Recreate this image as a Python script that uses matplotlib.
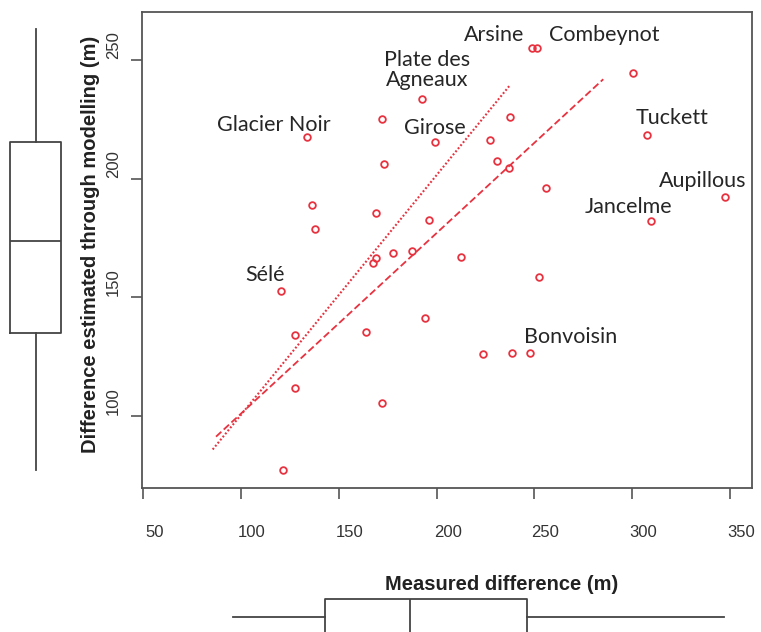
import matplotlib
matplotlib.use("Agg")
import matplotlib.pyplot as plt
from matplotlib.transforms import ScaledTranslation

# ---------------- data ----------------
measured = [249.0, 251.4, 300.6, 192.3, 172.0, 237.6, 133.8, 199.4, 227.3, 307.7,
            172.9, 230.7, 237.0, 255.8, 347.3, 309.7, 136.4, 138.0, 169.2, 195.9,
            169.2, 167.4, 177.7, 187.4, 212.7, 252.4, 120.4, 194.3, 164.0, 127.5,
            223.9, 238.3, 247.5, 127.5, 172.0, 121.2]
modelled = [255.2, 255.2, 244.4, 233.4, 225.0, 226.0, 217.4, 215.4, 216.2, 218.4,
            206.3, 207.4, 204.6, 195.9, 192.4, 182.2, 189.0, 178.7, 185.7, 182.7,
            166.7, 164.3, 168.8, 169.4, 167.1, 158.4, 152.7, 141.1, 135.4, 134.2,
            126.1, 126.7, 126.7, 111.8, 105.5, 77.2]

# fitted lines (end points)
dotted_x = [85.5, 237.1]
dotted_y = [85.9, 239.0]
dashed_x = [87.2, 285.2]
dashed_y = [91.3, 241.9]

# site labels
site_names = ["Arsine", "Combeynot", "Plate des\nAgneaux", "Glacier Noir", "Girose",
              "Tuckett", "Aupillous", "Jancelme", "Sélé", "Bonvoisin"]

# marginal box plot summaries (whisker low, Q1, median, Q3, whisker high)
y_box = [77.3, 135.0, 173.6, 215.6, 262.9]
x_box = [95.7, 142.7, 186.4, 246.3, 347.1]

x_ticks = [50, 100, 150, 200, 250, 300, 350]
y_ticks = [100, 150, 200, 250]

# ---------------- layout ----------------
W, H = 761, 632
fig = plt.figure(figsize=(W / 100, H / 100), dpi=100)

def fx(px):
    return px / W

def fy(py):
    return 1 - py / H

L, R, T, B = 141.7, 752.3, 12.3, 487.7
ax = fig.add_axes([fx(L), fy(B), fx(R - L), (B - T) / H])
ax.set_xlim(49.2, 361.4)
ax.set_ylim(69.8, 270.1)

red = "#e8323f"
ax.plot(measured, modelled, linestyle="none", marker="o", markersize=4.8,
        markerfacecolor="none", markeredgecolor=red, markeredgewidth=1.3)
ax.plot(dotted_x, dotted_y, color=red, lw=1.5, linestyle=(0, (0.9, 1.0)))
ax.plot(dashed_x, dashed_y, color=red, lw=1.3, linestyle=(0, (4.0, 1.8)))

# label positions (layout)
label_pos = [(229.6, 260.5), (285.9, 260.5), (195.0, 245.9), (116.6, 222.6),
             (199.2, 221.5), (320.2, 225.4), (336.2, 199.0), (298.3, 187.9),
             (112.2, 159.4), (268.4, 133.1)]
for name, (lx, ly) in zip(site_names, label_pos):
    ax.text(lx, ly, name, ha="center", va="center", fontsize=15.5,
            family=["Lato", "DejaVu Sans"], color="#262626", linespacing=1.02)

spine_col = "#555555"
for s in ax.spines.values():
    s.set_color(spine_col)
    s.set_linewidth(1.3)

ax.set_xticks(x_ticks)
ax.set_yticks(y_ticks)
ax.tick_params(direction="out", length=8, width=1.2, color=spine_col,
               labelsize=12, labelcolor="#333333")
ax.tick_params(axis="x", pad=19)
ax.tick_params(axis="y", pad=7)
for lab in ax.get_xticklabels():
    lab.set_family("Liberation Sans")
    lab.set_transform(lab.get_transform() + ScaledTranslation(11 / 100, 0, fig.dpi_scale_trans))
for lab in ax.get_yticklabels():
    lab.set_family("Liberation Sans")
    lab.set_rotation(90)
    lab.set_va("center")
    lab.set_transform(lab.get_transform() + ScaledTranslation(0, 15 / 100, fig.dpi_scale_trans))

fig.text(fx(502), fy(584), "Measured difference (m)", ha="center", va="center",
         fontsize=14.5, fontweight="bold", family="Liberation Sans", color="#222222")
fig.text(fx(91), fy(244.5), "Difference estimated through modelling (m)", ha="center",
         va="center", rotation=90, fontsize=14.5, fontweight="bold",
         family="Liberation Sans", color="#222222")

box_col = "#444444"
props = dict(color=box_col, linewidth=1.3)

# left marginal box plot
axl = fig.add_axes([0, fy(B), fx(72), (B - T) / H])
axl.set_xlim(0, 72)
axl.set_ylim(ax.get_ylim())
axl.bxp([dict(whislo=y_box[0], q1=y_box[1], med=y_box[2], q3=y_box[3], whishi=y_box[4])],
        positions=[35.5], widths=[51], showfliers=False, showcaps=False,
        boxprops=props, whiskerprops=props, medianprops=props, manage_ticks=False)
axl.axis("off")

# bottom marginal box plot
axb = fig.add_axes([fx(L), 0, fx(R - L), 52 / H])
axb.set_xlim(ax.get_xlim())
axb.set_ylim(0, 52)
axb.bxp([dict(whislo=x_box[0], q1=x_box[1], med=x_box[2], q3=x_box[3], whishi=x_box[4])],
        positions=[15.3], widths=[34.8], vert=False, showfliers=False, showcaps=False,
        boxprops=props, whiskerprops=props, medianprops=props, manage_ticks=False)
axb.axis("off")

fig.savefig("out.png", dpi=100)
